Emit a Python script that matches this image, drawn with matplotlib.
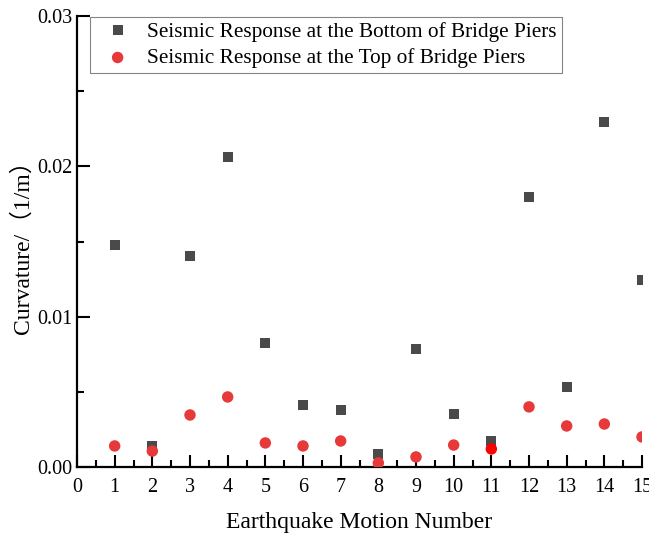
import matplotlib
matplotlib.use("Agg")
import matplotlib.pyplot as plt
from matplotlib.ticker import MultipleLocator

plt.rcParams['font.family'] = ['Liberation Serif', 'Noto Sans CJK SC']

motion = [1, 2, 3, 4, 5, 6, 7, 8, 9, 10, 11, 12, 13, 14, 15]
bottom = [0.01477, 0.0014, 0.01404, 0.02063, 0.00825, 0.00413, 0.0038, 0.00086,
          0.00785, 0.00353, 0.00173, 0.01796, 0.00532, 0.02295, 0.01244]
top = [0.0014, 0.00106, 0.00346, 0.00466, 0.0016, 0.0014, 0.00173, 0.00027,
       0.00067, 0.00146, 0.0012, 0.004, 0.00273, 0.00286, 0.002]
yticks = [0, 0.01, 0.02, 0.03]
yticklabels = ['0.00', '0.01', '0.02', '0.03']

fig = plt.figure(figsize=(6.49, 5.35), dpi=100)
ax = fig.add_axes([77/649, 68/535, 565/649, 451/535])

ax.plot(motion, bottom, 's', color='#4a4a4a', markersize=7.3, markeredgewidth=0,
        label='Seismic Response at the Bottom of Bridge Piers')
top_colors = ['#e8393a'] * len(top)
top_colors[10] = '#ff0000'  # point 11 is drawn in pure red
ax.scatter(motion, top, s=68, c=top_colors, linewidths=0, zorder=3,
           label='Seismic Response at the Top of Bridge Piers')

ax.set_xlim(0, 15)
ax.set_ylim(0, 0.03)
ax.xaxis.set_major_locator(MultipleLocator(1))
ax.xaxis.set_minor_locator(MultipleLocator(0.5))
ax.set_yticks(yticks)
ax.set_yticklabels(yticklabels)
ax.yaxis.set_minor_locator(MultipleLocator(0.005))

for s in ['top', 'right']:
    ax.spines[s].set_visible(False)
for s in ['left', 'bottom']:
    ax.spines[s].set_linewidth(1.6)
ax.tick_params(which='major', direction='in', length=9, width=1.5, labelsize=14.5)
ax.tick_params(which='minor', direction='in', length=5, width=1.5)
ax.tick_params(axis='x', pad=8)
ax.tick_params(axis='y', pad=3)

ax.set_xlabel('Earthquake Motion Number', fontsize=17, labelpad=11)
ax.set_ylabel('Curvature/（1/m）', fontsize=17, labelpad=3)

leg = ax.legend(loc='upper left', bbox_to_anchor=(13/565, 1.0 - 1/451), borderaxespad=0,
                fontsize=15.3, frameon=True, fancybox=False, edgecolor='#666666',
                handlelength=2.1, handletextpad=0.33, borderpad=0.25, labelspacing=0.28)
leg.get_frame().set_linewidth(0.8)

fig.savefig('out.png', dpi=100)
